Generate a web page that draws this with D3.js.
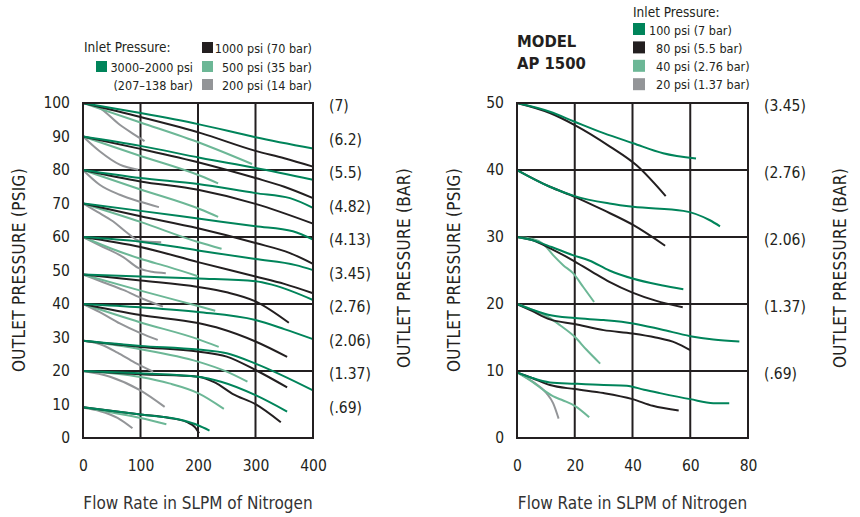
<!DOCTYPE html>
<html lang="en">

<head>
  <title>AP 1500 flow curves</title>
  <script src="https://cdnjs.cloudflare.com/ajax/libs/d3/7.8.5/d3.min.js"></script>
  <style>
    body { margin: 0; background: #fff; }
    svg { display: block; }
    text { font-family: "Liberation Sans Narrow", "DejaVu Sans Condensed", sans-serif; fill: #231f20; }
  </style>
</head>

<body>
  <script>
    // ---- left chart: psig vs SLPM, one curve per start pressure ----
    var leftXTicks = [0, 100, 200, 300, 400];
    var leftYTicks = [0, 10, 20, 30, 40, 50, 60, 70, 80, 90, 100];
    var leftGrid = [20, 40, 60, 80];
    var leftBarLevels = [100, 90, 80, 70, 60, 50, 40, 30, 20, 10];
    var leftBarLabels = ["(7)", "(6.2)", "(5.5)", "(4.82)", "(4.13)", "(3.45)", "(2.76)", "(2.06)", "(1.37)", "(.69)"];

    // 3000-2000 psi inlet
    var leftGreen = [
      [[0, 100], [100, 97], [200, 93.7], [300, 89.8], [400, 86.4]],
      [[0, 90], [100, 87.2], [205, 83.6], [300, 80.6], [400, 77.1]],
      [[0, 80], [100, 77.6], [200, 75.8], [300, 73.1], [360, 71.6], [400, 68.7]],
      [[0, 70], [100, 67.8], [200, 65.5], [300, 63.2], [365, 61.7], [400, 59.2]],
      [[0, 60], [100, 58.6], [200, 56], [300, 53.4], [370, 51.6], [400, 50.1]],
      [[0, 48.8], [100, 48.2], [200, 47.6], [300, 46.8], [330, 45.7], [400, 41.2]],
      [[0, 40], [100, 39], [200, 37.6], [300, 35.2], [350, 32.5], [400, 29.5]],
      [[0, 29], [100, 27.5], [200, 26.4], [250, 25.3], [300, 22.2], [400, 14.2]],
      [[0, 20], [100, 19.3], [200, 18.3], [240, 16.8], [300, 12.8], [355, 7.9]],
      [[0, 9.2], [100, 7], [175, 5.2], [200, 3.8], [220, 2.2]]
    ];
    // 1000 psi inlet
    var leftBlack = [
      [[0, 100], [100, 95.8], [205, 91], [300, 85.7], [350, 83.5], [400, 81]],
      [[0, 90], [100, 86.3], [205, 82.1], [300, 77.6], [350, 75], [400, 71.6]],
      [[0, 80], [100, 76.6], [200, 74.1], [300, 69.9], [400, 64]],
      [[0, 70], [100, 66.2], [200, 62.6], [300, 58.2], [360, 55.2], [400, 52]],
      [[0, 60], [100, 57], [200, 52.5], [300, 48.2], [350, 46], [400, 43.2]],
      [[0, 48.8], [100, 47], [200, 45.1], [250, 43.5], [300, 40.8], [358, 34.4]],
      [[0, 40], [100, 36.7], [200, 34.3], [240, 32.6], [300, 28.8], [355, 24.2]],
      [[0, 29], [100, 27.2], [200, 25.8], [250, 24.3], [300, 20.3], [355, 15.1]],
      [[0, 20], [100, 19], [200, 18.3], [230, 16.5], [260, 13.2], [300, 10.1], [344, 4.7]],
      [[0, 9.2], [100, 7], [150, 6], [180, 4.8], [195, 3.2], [202, 1.4]]
    ];
    // 500 psi inlet
    var leftLight = [
      [[0, 100], [100, 94.2], [205, 88], [294, 81.8]],
      [[0, 90], [100, 84.2], [205, 78.2], [235, 76]],
      [[0, 80], [100, 74.2], [205, 68.2], [235, 66]],
      [[0, 70], [100, 64.5], [200, 58.5], [241, 56.5]],
      [[0, 60], [50, 56.5], [100, 53.5], [150, 51], [200, 48.3]],
      [[0, 48.8], [100, 44], [200, 39.4], [230, 38]],
      [[0, 40], [100, 34.5], [200, 29.5], [236, 27.2]],
      [[0, 29], [100, 26.5], [200, 22.8], [250, 19.8], [286, 16.8]],
      [[0, 20], [100, 18.2], [150, 16.3], [200, 13.4], [245, 8.7]],
      [[0, 9.2], [50, 7.6], [100, 6], [145, 4.1]]
    ];
    // 200 psi inlet
    var leftGray = [
      [[0, 100], [29, 98.5], [64, 93.5], [90, 90.5], [107, 88.6]],
      [[0, 90], [29, 85.6], [64, 81.6], [96, 80.1]],
      [[0, 80], [29, 75.6], [64, 72.6], [100, 70.5], [132, 68.9]],
      [[0, 70], [25, 67.5], [52, 64.7], [75, 61.5], [99, 58.8], [136, 58.4]],
      [[0, 60], [35, 57], [70, 54], [96, 50.8], [120, 49.6], [144, 49.2]],
      [[0, 48.8], [35, 46.5], [70, 44.2], [105, 41.5], [139, 39.2]],
      [[0, 40], [30, 37.5], [64, 34.2], [100, 31.3], [130, 29.3]],
      [[0, 29], [30, 28], [60, 25.5], [90, 22.5], [122, 19.8]],
      [[0, 20], [47, 18.3], [99, 14.3], [142, 9.3]],
      [[0, 9], [30, 8], [60, 6], [86, 2.9]]
    ];

    // ---- right chart: model AP 1500 ----
    var rightXTicks = [0, 20, 40, 60, 80];
    var rightYTicks = [0, 10, 20, 30, 40, 50];
    var rightGrid = [10, 20, 30, 40];
    var rightBarLevels = [50, 40, 30, 20, 10];
    var rightBarLabels = ["(3.45)", "(2.76)", "(2.06)", "(1.37)", "(.69)"];

    // 100 psi inlet
    var rightGreen = [
      [[0, 50], [11.4, 48.7], [20, 47.2], [30, 45.5], [40.2, 44], [50.6, 42.5], [62, 41.7]],
      [[0, 40], [11.4, 37.5], [20, 36.1], [32, 35], [40.2, 34.5], [57.6, 33.9], [66.8, 32.5], [70.3, 31.6]],
      [[0, 30], [5.5, 29.5], [12, 28.5], [19.3, 27.3], [25, 26.5], [32, 25], [40, 23.8], [50, 22.8], [57.6, 22.2]],
      [[0, 20], [5, 19.2], [10.8, 18.4], [20, 17.9], [30, 17.6], [40.2, 17.1], [50, 16.2], [60, 15.2], [68, 14.7], [77, 14.4]],
      [[0, 9.8], [5, 9], [11.4, 8.3], [20, 8.1], [30, 7.9], [38, 7.8], [44, 7.2], [49.5, 6.7], [60, 5.8], [68, 5.2], [73.5, 5.2]]
    ];
    // 80 psi inlet
    var rightBlack = [
      [[0, 50], [11.4, 48.5], [20, 46.7], [32.2, 43.5], [41.4, 40.7], [51.5, 36.1]],
      [[0, 40], [11.4, 37.5], [20, 36], [30, 34], [40.2, 31.8], [51.3, 28.7]],
      [[0, 30], [5.5, 29.5], [12, 28.2], [19, 26.6], [26, 24.8], [32, 23.3], [40, 21.7], [48, 20.5], [57.4, 19.5]],
      [[0, 20], [5, 19], [11.4, 17.7], [20, 17], [30, 16.1], [40, 15.6], [48, 15], [55, 14.2], [60, 13.1]],
      [[0, 9.8], [5, 9], [11.4, 7.9], [20, 7.3], [30, 6.7], [40, 5.8], [47, 4.8], [56, 4.1]]
    ];
    // 40 psi inlet
    var rightLight = [
      [[0, 30], [5.5, 29.7], [9, 29], [12.5, 27.3], [16, 25.8], [19.4, 24.6], [23, 22.5], [26.7, 20.3]],
      [[0, 20], [5, 19.2], [11, 18], [15, 16.8], [20, 15.1], [24, 13.2], [28.8, 11.1]],
      [[0, 9.8], [5.6, 8.3], [9, 7.2], [12.6, 6.2], [16, 5.6], [20, 4.8], [25, 3.1]]
    ];
    // 20 psi inlet
    var rightGray = [
      [[0, 9.8], [5.5, 8.4], [10.2, 6.7], [12.5, 5.2], [14.4, 2.9]]
    ];

    var leftLegend = ["3000\u20132000 psi", "(207\u2013138 bar)", "1000 psi (70 bar)", "500 psi (35 bar)", "200 psi (14 bar)"];
    var rightLegend = ["100 psi (7 bar)", "80 psi (5.5 bar)", "40 psi (2.76 bar)", "20 psi (1.37 bar)"];

    var colors = {
      green: "#00845a",
      black: "#231f20",
      light: "#6cb796",
      gray: "#939598"
    };

    var w = 860;
    var h = 517;
    var svg = d3.select("body").append("svg")
      .attr("width", w)
      .attr("height", h);

    function panel(params) {
      var x = d3.scaleLinear().domain(params.xDomain).range(params.xRange);
      var y = d3.scaleLinear().domain(params.yDomain).range([438, 103]);
      var g = svg.append("g");

      // grid
      g.selectAll(".hgrid").data(params.grid).enter().append("line")
        .attr("x1", x.range()[0]).attr("x2", x.range()[1])
        .attr("y1", function (d) { return y(d); })
        .attr("y2", function (d) { return y(d); })
        .attr("stroke", colors.black).attr("stroke-width", 2);
      g.selectAll(".vgrid").data(params.xTicks.slice(1, -1)).enter().append("line")
        .attr("x1", function (d) { return x(d); })
        .attr("x2", function (d) { return x(d); })
        .attr("y1", y.range()[0]).attr("y2", y.range()[1])
        .attr("stroke", colors.black).attr("stroke-width", 2);

      var line = d3.line()
        .x(function (d) { return x(d[0]); })
        .y(function (d) { return y(d[1]); })
        .curve(d3.curveMonotoneX);

      params.series.forEach(function (s) {
        g.selectAll(null).data(s.curves).enter().append("path")
          .attr("d", line)
          .attr("fill", "none")
          .attr("stroke", s.color)
          .attr("stroke-width", 2);
      });

      // frame
      g.append("rect")
        .attr("x", x.range()[0]).attr("y", y.range()[1])
        .attr("width", x.range()[1] - x.range()[0])
        .attr("height", y.range()[0] - y.range()[1])
        .attr("fill", "none")
        .attr("stroke", colors.black).attr("stroke-width", 2);

      // axes (labels only)
      var xAxis = d3.axisBottom(x).tickValues(params.xTicks).tickSize(0).tickPadding(22);
      var yAxis = d3.axisLeft(y).tickValues(params.yTicks).tickSize(0).tickPadding(13);
      var gx = g.append("g").attr("transform", "translate(0,438)").call(xAxis);
      var gy = g.append("g").attr("transform", "translate(" + x.range()[0] + ",0)").call(yAxis);
      [gx, gy].forEach(function (a) {
        a.select(".domain").remove();
        a.selectAll("text").attr("font-size", 15.5).attr("font-family", null).attr("fill", colors.black);
      });

      // bar labels on the right
      g.selectAll(".bar-label").data(params.barLevels).enter().append("text")
        .attr("x", x.range()[1] + 16)
        .attr("y", function (d) { return y(d) + 3; })
        .attr("dy", "0.35em")
        .attr("font-size", 15.5)
        .text(function (d, i) { return params.barLabels[i]; });

      // titles
      g.append("text")
        .attr("x", (x.range()[0] + x.range()[1]) / 2)
        .attr("y", 509)
        .attr("text-anchor", "middle")
        .attr("font-size", 17)
        .style("fill", "#333")
        .text("Flow Rate in SLPM of Nitrogen");
      g.append("text")
        .attr("transform", "translate(" + params.psigX + ",270) rotate(-90)")
        .attr("text-anchor", "middle")
        .attr("font-size", 17)
        .attr("letter-spacing", 0.3)
        .text("OUTLET PRESSURE (PSIG)");
      g.append("text")
        .attr("transform", "translate(" + params.barX + ",268) rotate(-90)")
        .attr("text-anchor", "middle")
        .attr("font-size", 17)
        .attr("letter-spacing", 0.3)
        .text("OUTLET PRESSURE (BAR)");
    }

    panel({
      xDomain: [0, 400], xRange: [83, 313], yDomain: [0, 100],
      xTicks: leftXTicks, yTicks: leftYTicks, grid: leftGrid,
      barLevels: leftBarLevels, barLabels: leftBarLabels,
      psigX: 25, barX: 410,
      series: [
        { color: colors.gray, curves: leftGray },
        { color: colors.light, curves: leftLight },
        { color: colors.black, curves: leftBlack },
        { color: colors.green, curves: leftGreen }
      ]
    });

    panel({
      xDomain: [0, 80], xRange: [517, 748], yDomain: [0, 50],
      xTicks: rightXTicks, yTicks: rightYTicks, grid: rightGrid,
      barLevels: rightBarLevels, barLabels: rightBarLabels,
      psigX: 460, barX: 846,
      series: [
        { color: colors.gray, curves: rightGray },
        { color: colors.light, curves: rightLight },
        { color: colors.black, curves: rightBlack },
        { color: colors.green, curves: rightGreen }
      ]
    });

    // ---- legends ----
    var legend = svg.append("g");
    legend.append("text").attr("x", 84).attr("y", 52).attr("font-size", 13.5).text("Inlet Pressure:");
    var leftSwatches = [
      { c: colors.green, x: 96, y: 61 },
      { c: colors.black, x: 202, y: 42 },
      { c: colors.light, x: 202, y: 61 },
      { c: colors.gray, x: 202, y: 79 }
    ];
    legend.selectAll(".lsw").data(leftSwatches).enter().append("rect")
      .attr("x", function (d) { return d.x; })
      .attr("y", function (d) { return d.y; })
      .attr("width", 11).attr("height", 11)
      .attr("fill", function (d) { return d.c; });
    var leftLegendPos = [[193, 72], [193, 90], [312, 53], [312, 72], [312, 90]];
    legend.selectAll(".ltx").data(leftLegend).enter().append("text")
      .attr("x", function (d, i) { return leftLegendPos[i][0]; })
      .attr("y", function (d, i) { return leftLegendPos[i][1]; })
      .attr("text-anchor", "end")
      .attr("font-size", 12.5)
      .text(function (d) { return d; });

    legend.append("text").attr("x", 633).attr("y", 17).attr("font-size", 13.5).text("Inlet Pressure:");
    var rightColors = [colors.green, colors.black, colors.light, colors.gray];
    legend.selectAll(".rsw").data(rightLegend).enter().append("rect")
      .attr("x", 633)
      .attr("y", function (d, i) { return 23 + i * 18.4; })
      .attr("width", 12).attr("height", 12)
      .attr("fill", function (d, i) { return rightColors[i]; });
    legend.selectAll(".rtx").data(rightLegend).enter().append("text")
      .attr("x", function (d) { return d.indexOf("100") === 0 ? 649 : 656; })
      .attr("y", function (d, i) { return 35 + i * 18; })
      .attr("font-size", 12.5)
      .text(function (d) { return d; });

    svg.append("text").attr("x", 517).attr("y", 47)
      .attr("font-size", 16.5).attr("font-weight", "bold").text("MODEL");
    svg.append("text").attr("x", 517).attr("y", 69)
      .attr("font-size", 16.5).attr("font-weight", "bold").text("AP 1500");
  </script>
</body>

</html>
